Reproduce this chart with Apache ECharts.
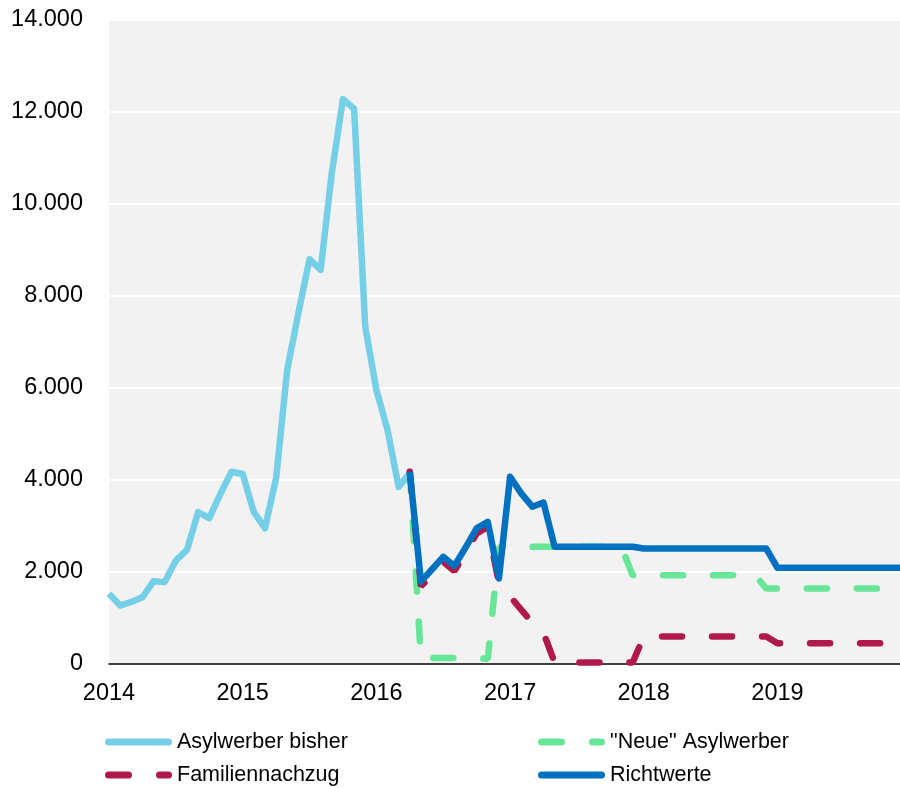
<!DOCTYPE html>
<html>
<head>
<meta charset="utf-8">
<title>Asylwerber Richtwerte</title>
<script src="https://cdn.jsdelivr.net/npm/echarts@6/dist/echarts.min.js"></script>
<style>
  html, body { margin: 0; padding: 0; background: #fff; }
  #chart { width: 900px; height: 788px; }
</style>
</head>
<body>
<div id="chart"></div>
<script>
/* Asylwerber: bisher vs. Richtwerte, monthly 2014-2019 */

// months Jan 2014 .. Dec 2019
const years = [2014, 2015, 2016, 2017, 2018, 2019];
const months = [];
years.forEach((y) => {
  for (let m = 1; m <= 12; m++) months.push(y + "-" + (m < 10 ? "0" + m : m));
});

// Jan 2014 .. Apr 2016
const bisher = [
  1530, 1270, 1350, 1450, 1800, 1780, 2250, 2480, 3300, 3170, 3700, 4180,
  4130, 3300, 2950, 4040, 6400, 7630, 8800, 8570, 10680, 12280, 12070, 7330,
  5960, 5090, 3850, 4150
];

// Apr 2016 .. Dec 2019
const neue = [
  4180, 110, 130, 130, 130, 130, 130, 110,
  2530, 2550, 2550, 2550, 2550, 2550, 2550, 2550, 2550, 2550, 2550, 2550,
  1930, 1930, 1930, 1930, 1930, 1930, 1930, 1930, 1930, 1930, 1930, 1930,
  1640, 1640, 1640, 1640, 1640, 1640, 1640, 1640, 1640, 1640, 1640, 1640
];

const familien = [
  4180, 1690, 1940, 2220, 2020, 2420, 2840, 2980, 1760,
  1470, 1180, 900, 680, 30, 30, 30, 30, 30, 30, 30, 30,
  600, 600, 600, 600, 600, 600, 600, 600, 600, 600, 600, 600,
  450, 450, 450, 450, 450, 450, 450, 450, 450, 450, 450, 450
];

const richtwerte = [
  4180, 1790, 2060, 2330, 2130, 2530, 2950, 3090, 1860,
  4070, 3710, 3420, 3510, 2550, 2550, 2550, 2550, 2550, 2550, 2550, 2550,
  2510, 2510, 2510, 2510, 2510, 2510, 2510, 2510, 2510, 2510, 2510, 2510,
  2090, 2090, 2090, 2090, 2090, 2090, 2090, 2090, 2090, 2090, 2090, 2090
];

const START_NEW = 27; // Apr 2016

(function () {
  "use strict";

  const font = "Liberation Sans, Arial, sans-serif";

  // legend icons: a pill, or two pills for the dashed series
  const ICON_SOLID = "path://M3.5,0h60a3.5,3.5 0 0 1 0,7h-60a3.5,3.5 0 0 1 0,-7z";
  const ICON_DASH = "path://M3.5,0h20a3.5,3.5 0 0 1 0,7h-20a3.5,3.5 0 0 1 0,-7z" +
    "M54.5,0h9a3.5,3.5 0 0 1 0,7h-9a3.5,3.5 0 0 1 0,-7z";

  function padTo(arr, offset) {
    const out = [];
    for (let i = 0; i < months.length; i++) {
      const j = i - offset;
      out.push(j >= 0 && j < arr.length ? arr[j] : null);
    }
    return out;
  }

  function fmt(v) {
    return String(v).replace(/\B(?=(\d{3})+(?!\d))/g, ".");
  }

  function legendItem(name, icon, left, top) {
    return {
      left: left, top: top, padding: 0, itemWidth: 67, itemHeight: 7,
      icon: icon,
      textStyle: { color: "#000", fontSize: 21.5, fontFamily: font },
      data: [name]
    };
  }

  const chart = echarts.init(document.getElementById("chart"), null, { renderer: "canvas" });

  const dashed = { type: [20, 30], cap: "round", width: 6.5 };

  chart.setOption({
    animation: false,
    textStyle: { fontFamily: font },
    grid: {
      left: 109, right: 0, top: 20, bottom: 124,
      show: true, backgroundColor: "#f2f2f2", borderWidth: 0
    },
    xAxis: {
      type: "category",
      data: months,
      boundaryGap: false,
      axisLine: { lineStyle: { color: "#000", width: 1.5 } },
      axisTick: { show: false },
      axisLabel: {
        interval: (i) => i % 12 === 0,
        formatter: (v) => v.slice(0, 4),
        color: "#000", fontSize: 23.5, margin: 18
      },
      splitLine: { show: false }
    },
    yAxis: {
      type: "value",
      min: 0, max: 14000, interval: 2000,
      axisLine: { show: false },
      axisTick: { show: false },
      axisLabel: { color: "#000", fontSize: 23.5, margin: 26, formatter: fmt },
      splitLine: { lineStyle: { color: "#fff", width: 2 } }
    },
    legend: [
      legendItem("Asylwerber bisher", ICON_SOLID, 105, 731),
      legendItem("Familiennachzug", ICON_DASH, 105, 764),
      legendItem('"Neue" Asylwerber', ICON_DASH, 538, 731),
      legendItem("Richtwerte", ICON_SOLID, 538, 764)
    ],
    series: [
      {
        name: "Asylwerber bisher", type: "line", data: padTo(bisher, 0),
        showSymbol: false, symbol: "none", color: "#75cfe7",
        lineStyle: { width: 6.5, join: "round" }
      },
      {
        name: '"Neue" Asylwerber', type: "line", data: padTo(neue, START_NEW),
        showSymbol: false, symbol: "none", color: "#68e697",
        lineStyle: dashed
      },
      {
        name: "Familiennachzug", type: "line", data: padTo(familien, START_NEW),
        showSymbol: false, symbol: "none", color: "#b0194c",
        lineStyle: dashed
      },
      {
        name: "Richtwerte", type: "line", data: padTo(richtwerte, START_NEW),
        showSymbol: false, symbol: "none", color: "#0070c0",
        lineStyle: { width: 6.5, join: "round" }
      }
    ]
  });
})();
</script>
</body>
</html>
